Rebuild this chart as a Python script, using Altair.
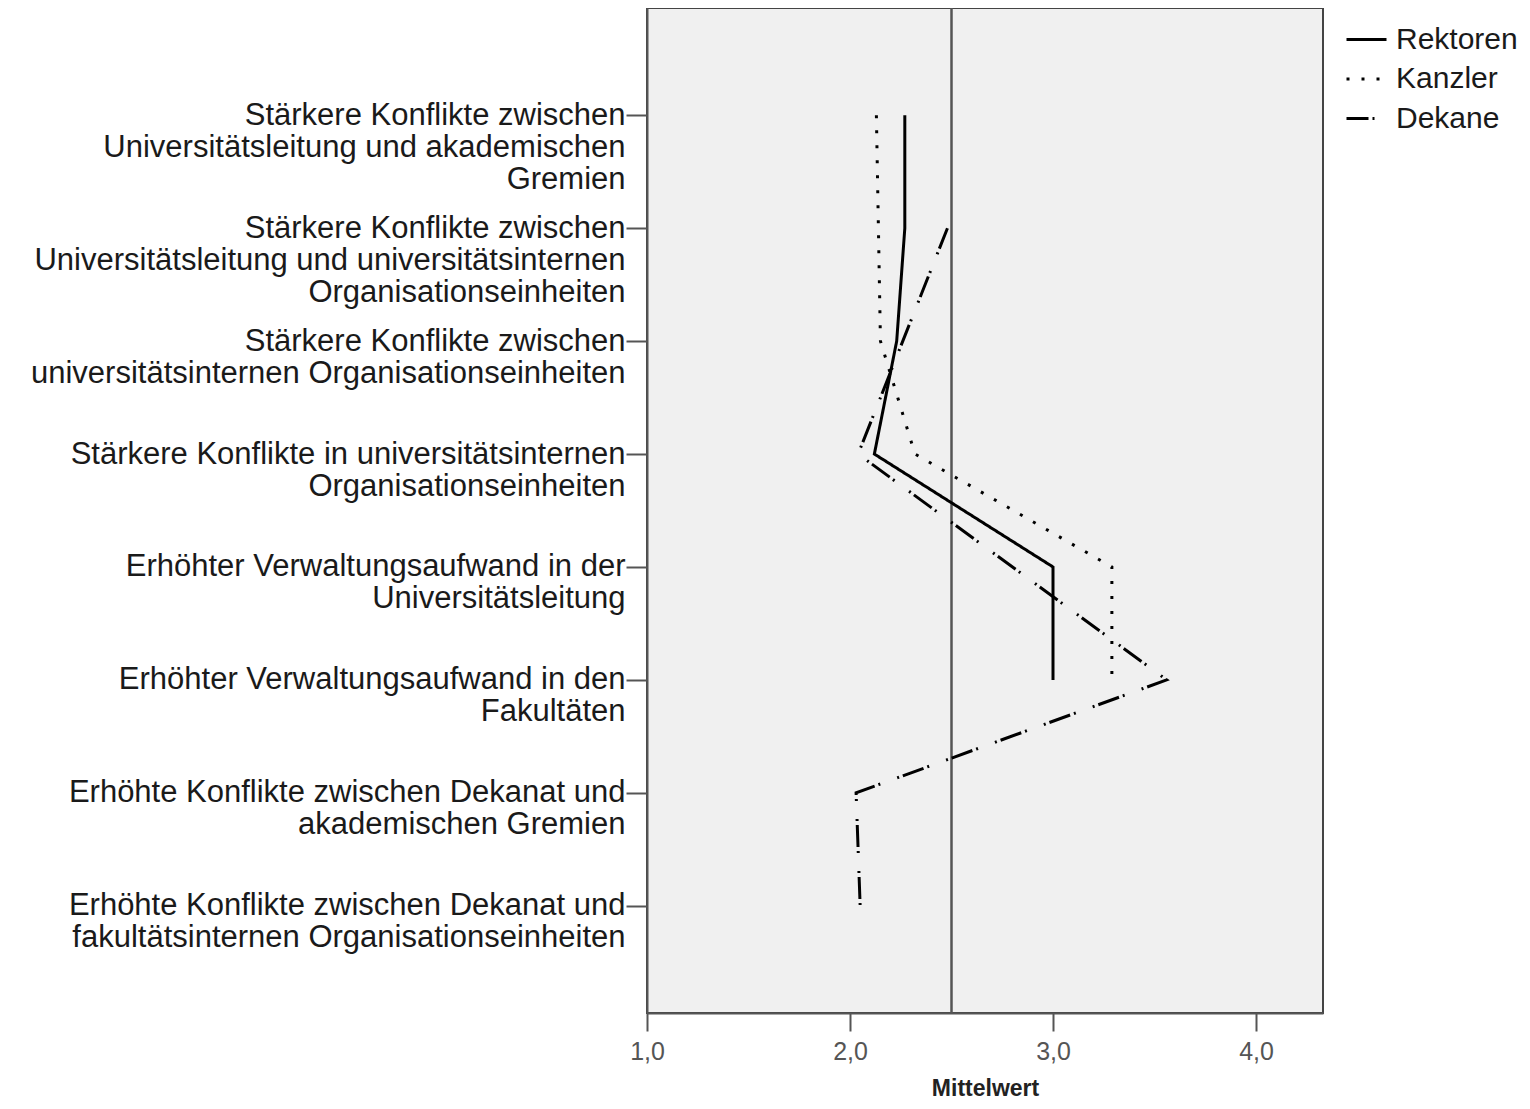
import altair as alt
import pandas as pd

categories = [
    "Stärkere Konflikte zwischen\nUniversitätsleitung und akademischen\nGremien",
    "Stärkere Konflikte zwischen\nUniversitätsleitung und universitätsinternen\nOrganisationseinheiten",
    "Stärkere Konflikte zwischen\nuniversitätsinternen Organisationseinheiten",
    "Stärkere Konflikte in universitätsinternen\nOrganisationseinheiten",
    "Erhöhter Verwaltungsaufwand in der\nUniversitätsleitung",
    "Erhöhter Verwaltungsaufwand in den\nFakultäten",
    "Erhöhte Konflikte zwischen Dekanat und\nakademischen Gremien",
    "Erhöhte Konflikte zwischen Dekanat und\nfakultätsinternen Organisationseinheiten",
]
groups = ["Rektoren", "Kanzler", "Dekane"]
rektoren = [2.27, 2.27, 2.23, 2.12, 3.00, 3.00, None, None]
kanzler = [2.13, 2.14, 2.15, 2.32, 3.29, 3.29, None, None]
dekane = [None, 2.48, None, 2.04, None, 3.56, 2.03, 2.05]
reference_value = [2.5]
x_ticks = [1, 2, 3, 4]

rows = []
for g, vals in zip(groups, [rektoren, kanzler, dekane]):
    for i, (c, v) in enumerate(zip(categories, vals)):
        if v is not None:
            rows.append({"Gruppe": g, "Item": c, "Mittelwert": v, "idx": i})
df = pd.DataFrame(rows)
ref_df = pd.DataFrame({"x": reference_value})

FONT = "Liberation Sans"

xscale = alt.Scale(domain=[1, 4.33], zero=False, nice=False)

lines = alt.Chart(df).mark_line(color="black", strokeWidth=3).encode(
    x=alt.X(
        "Mittelwert:Q",
        scale=xscale,
        axis=alt.Axis(
            values=x_ticks,
            title="Mittelwert",
            labelExpr="replace(format(datum.value, '.1f'), '.', ',')",
            labelFont=FONT,
            labelFontSize=25,
            labelColor="#555555",
            labelPadding=8,
            labelFlush=False,
            tickSize=18,
            tickColor="#555555",
            tickWidth=2,
            domainColor="#555555",
            domainWidth=2,
            grid=False,
            titleFont=FONT,
            titleFontSize=23,
            titleFontWeight="bold",
            titleColor="#222222",
            titlePadding=13,
        ),
    ),
    y=alt.Y(
        "Item:N",
        sort=categories,
        scale=alt.Scale(padding=0.95),
        axis=alt.Axis(
            title=None,
            labelExpr="split(datum.label, '\\n')",
            labelFont=FONT,
            labelFontSize=31,
            labelColor="#1a1a1a",
            labelLineHeight=32,
            labelLimit=800,
            labelPadding=1,
            tickSize=21,
            tickColor="#555555",
            tickWidth=2,
            domainColor="#555555",
            domainWidth=2,
            grid=False,
        ),
    ),
    strokeDash=alt.StrokeDash(
        "Gruppe:N",
        scale=alt.Scale(
            domain=groups,
            range=[[1, 0], [3, 12], [22, 4, 2, 18, 2, 4]],
        ),
        legend=alt.Legend(
            title=None,
            orient="none",
            legendX=698,
            legendY=10,
            padding=0,
            symbolType="stroke",
            symbolSize=1600,
            symbolStrokeWidth=3,
            symbolStrokeColor="black",
            labelFont=FONT,
            labelFontSize=30,
            labelColor="#1a1a1a",
            rowPadding=2.5,
            labelOffset=8,
        ),
    ),
    order=alt.Order("idx:Q"),
)

rule = alt.Chart(ref_df).mark_rule(color="#555555", strokeWidth=2.5).encode(
    x=alt.X("x:Q", scale=xscale)
)

chart = (
    alt.layer(rule, lines)
    .properties(
        width=676,
        height=1005,
        background="white",
        autosize=alt.AutoSizeParams(type="none"),
        padding={"left": 639, "top": 0, "right": 199, "bottom": 92},
    )
    .configure_view(fill="#f0f0f0", stroke="#444444", strokeWidth=2)
)

chart.save("out.html", embed_options={"renderer": "svg", "actions": False})
